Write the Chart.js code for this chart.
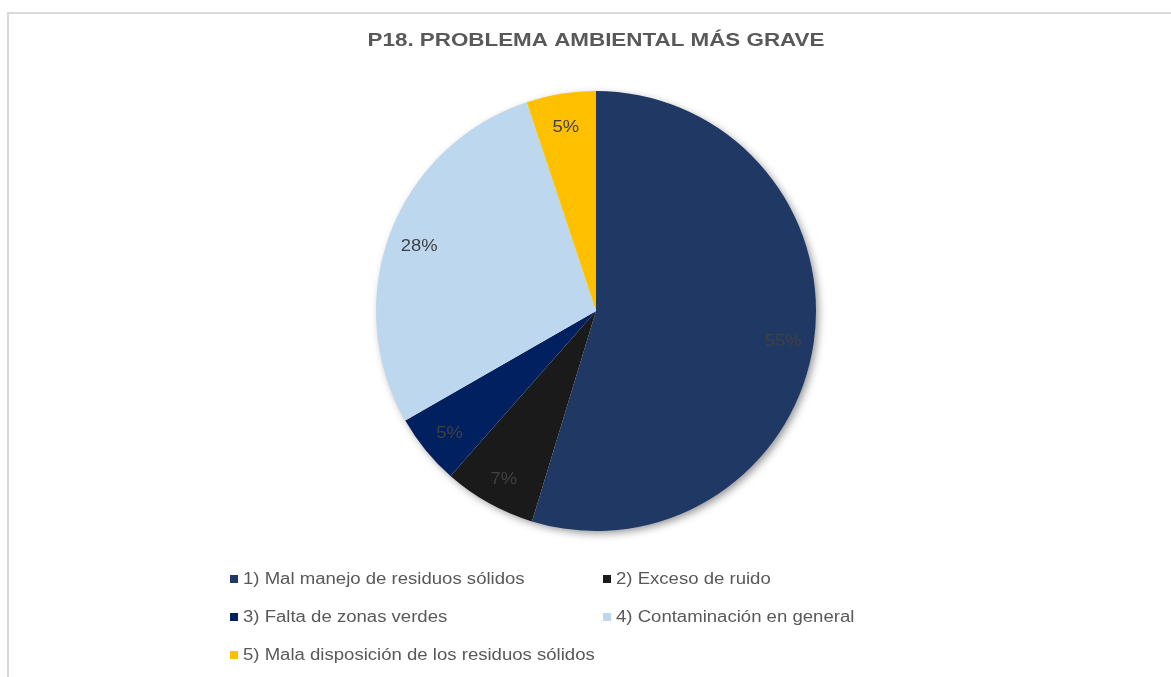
<!DOCTYPE html>
<html>
<head>
<meta charset="utf-8">
<script src="https://cdn.jsdelivr.net/npm/chart.js@4/dist/chart.umd.min.js"></script>
<style>
  html, body { margin: 0; padding: 0; background: #fff; overflow: hidden; }
  #frame {
    position: absolute; left: 7px; top: 12px; width: 1200px; height: 700px;
    border-top: 2px solid #d9d9d9; border-left: 2px solid #d9d9d9;
  }
  #wrap { position: absolute; left: 0; top: 0; width: 1171px; height: 677px; }
</style>
</head>
<body>
<div id="frame"></div>
<div id="wrap"><canvas id="pieChart" width="1171" height="677"></canvas></div>
<script>
// data
const title = 'P18. PROBLEMA AMBIENTAL MÁS GRAVE';
const categories = [
  '1) Mal manejo de residuos sólidos',
  '2) Exceso de ruido',
  '3) Falta de zonas verdes',
  '4) Contaminación en general',
  '5) Mala disposición de los residuos sólidos'
];
const shares = [54.7, 6.8, 5.2, 28.2, 5.1];
const colors = ['#1F3864', '#1A1A1A', '#002060', '#BDD7EE', '#FFC000'];

const FONT = '"Liberation Sans", Arial, sans-serif';

// the original's text is drawn a bit wider than Arial, so stretch it horizontally
function wideText(ctx, txt, x, y, align, sx) {
  const w = ctx.measureText(txt).width * sx;
  let left = x;
  if (align === 'center') left = x - w / 2;
  ctx.save();
  ctx.translate(left, y);
  ctx.scale(sx, 1);
  ctx.textAlign = 'left';
  ctx.fillText(txt, 0, 0);
  ctx.restore();
}

// soft drop shadow behind the whole pie
const pieShadow = {
  id: 'pieShadow',
  beforeDatasetsDraw(chart) {
    const arc = chart.getDatasetMeta(0).data[0];
    if (!arc) return;
    const { x, y, outerRadius } = arc.getProps(['x', 'y', 'outerRadius'], true);
    const ctx = chart.ctx;
    ctx.save();
    ctx.shadowColor = 'rgba(0,0,0,0.45)';
    ctx.shadowBlur = 9;
    ctx.shadowOffsetX = 3;
    ctx.shadowOffsetY = 3;
    ctx.fillStyle = '#ffffff';
    ctx.beginPath();
    ctx.arc(x, y, outerRadius - 1, 0, Math.PI * 2);
    ctx.fill();
    ctx.restore();
  }
};

// percentage labels inside each slice
const sliceLabels = {
  id: 'sliceLabels',
  afterDatasetsDraw(chart) {
    const ctx = chart.ctx;
    const values = chart.data.datasets[0].data;
    const total = values.reduce((a, b) => a + b, 0);
    ctx.save();
    ctx.font = '16px ' + FONT;
    ctx.fillStyle = '#404040';
    ctx.textBaseline = 'middle';
    chart.getDatasetMeta(0).data.forEach((arc, i) => {
      const p = arc.getProps(['x', 'y', 'startAngle', 'endAngle', 'outerRadius'], true);
      const mid = (p.startAngle + p.endAngle) / 2;
      const r = p.outerRadius * 0.86;
      const txt = Math.round(values[i] / total * 100) + '%';
      wideText(ctx, txt, p.x + Math.cos(mid) * r, p.y + Math.sin(mid) * r + 3, 'center', 1.15);
    });
    ctx.restore();
  }
};

// title and two-column legend like the original
const headerAndLegend = {
  id: 'headerAndLegend',
  afterDraw(chart) {
    const ctx = chart.ctx;
    const area = chart.chartArea;
    ctx.save();
    ctx.textBaseline = 'middle';
    ctx.font = 'bold 18.67px ' + FONT;
    ctx.fillStyle = '#595959';
    wideText(ctx, title, (area.left + area.right) / 2, 41, 'center', 1.2);

    const colX = [230, 603];
    const rowY = [579, 617, 655];
    ctx.font = '16px ' + FONT;
    categories.forEach((label, i) => {
      const x = colX[i % 2];
      const y = rowY[Math.floor(i / 2)];
      ctx.fillStyle = colors[i];
      ctx.fillRect(x, y - 4, 8, 8);
      ctx.fillStyle = '#595959';
      wideText(ctx, label, x + 13, y + 1, 'left', 1.16);
    });
    ctx.restore();
  }
};

const myChartRef = document.getElementById('pieChart').getContext('2d');
const myChart = new Chart(myChartRef, {
  type: 'pie',
  data: {
    labels: categories,
    datasets: [{
      data: shares,
      backgroundColor: colors,
      borderWidth: 0
    }]
  },
  options: {
    responsive: false,
    animation: false,
    layout: { padding: { top: 91, bottom: 146, left: 21, right: 0 } },
    plugins: {
      legend: { display: false },
      tooltip: { enabled: false },
      title: { display: false }
    }
  },
  plugins: [pieShadow, sliceLabels, headerAndLegend]
});
</script>
</body>
</html>
